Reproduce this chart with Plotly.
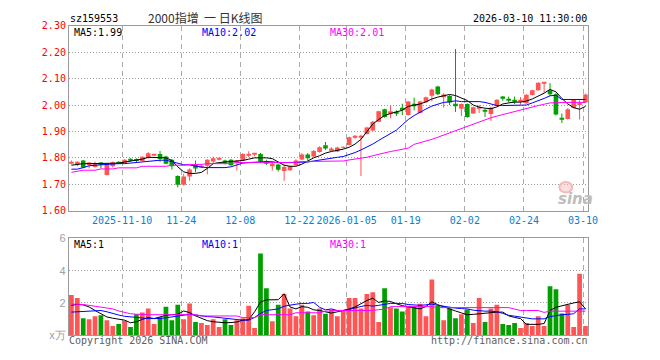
import plotly.graph_objects as go

W, H = 660, 360

# ---------------- data ----------------
opens = [1.780,1.774,1.790,1.773,1.765,1.782,1.735,1.768,1.785,1.780,
         1.796,1.796,1.788,1.799,1.810,1.815,1.805,1.793,1.731,1.698,
         1.729,1.774,1.765,1.770,1.786,1.794,1.790,1.793,1.780,1.790,
         1.810,1.813,1.815,1.783,1.768,1.775,1.750,1.753,1.772,1.794,
         1.813,1.805,1.822,1.848,1.830,1.824,1.838,1.849,1.879,1.876,
         1.890,1.904,1.937,1.984,1.966,1.972,1.990,1.962,2.005,1.970,
         2.011,2.035,2.070,2.029,2.034,2.005,1.986,2.004,1.968,1.988,
         1.982,1.966,1.997,2.032,2.021,2.016,2.014,2.007,2.038,2.056,
         2.082,2.056,2.041,1.950,1.947,1.989,2.000,2.010]
highs = [1.790,1.787,1.792,1.784,1.786,1.784,1.780,1.786,1.787,1.795,
         1.798,1.798,1.806,1.822,1.814,1.826,1.808,1.795,1.734,1.740,
         1.760,1.790,1.776,1.795,1.805,1.800,1.793,1.796,1.792,1.818,
         1.825,1.818,1.818,1.793,1.786,1.778,1.775,1.770,1.795,1.818,
         1.818,1.830,1.844,1.860,1.840,1.842,1.843,1.880,1.886,1.888,
         1.918,1.940,1.978,1.986,2.000,1.980,2.005,2.015,2.028,2.016,
         2.032,2.062,2.073,2.045,2.038,2.212,2.006,2.006,1.994,2.000,
         1.984,1.994,2.022,2.034,2.032,2.032,2.030,2.041,2.058,2.086,
         2.086,2.083,2.045,1.968,1.988,2.022,2.018,2.043]
lows = [1.775,1.768,1.760,1.760,1.763,1.760,1.733,1.764,1.776,1.778,
        1.786,1.784,1.786,1.797,1.806,1.785,1.776,1.756,1.688,1.695,
        1.713,1.745,1.762,1.737,1.778,1.790,1.775,1.770,1.752,1.788,
        1.803,1.806,1.783,1.773,1.752,1.748,1.713,1.750,1.770,1.792,
        1.790,1.803,1.820,1.830,1.826,1.822,1.835,1.847,1.872,1.731,
        1.888,1.902,1.935,1.952,1.950,1.958,1.962,1.960,1.980,1.968,
        2.008,2.014,2.038,1.990,2.000,1.974,1.958,1.952,1.966,1.970,
        1.955,1.940,1.995,2.016,2.010,2.004,2.002,2.005,2.036,2.054,
        2.046,2.034,1.960,1.932,1.945,1.987,1.945,2.008]
closes = [1.782,1.785,1.763,1.782,1.780,1.773,1.778,1.783,1.780,1.793,
          1.790,1.788,1.804,1.817,1.811,1.796,1.778,1.768,1.698,1.729,
          1.756,1.760,1.770,1.793,1.798,1.796,1.784,1.772,1.790,1.815,
          1.812,1.815,1.786,1.780,1.778,1.755,1.765,1.768,1.790,1.813,
          1.798,1.826,1.840,1.835,1.835,1.839,1.840,1.878,1.881,1.884,
          1.915,1.937,1.976,1.955,1.976,1.970,1.980,2.013,1.995,2.013,
          2.029,2.059,2.041,2.040,2.010,1.995,2.004,1.955,1.992,1.991,
          1.977,1.990,2.020,2.024,2.019,2.014,2.016,2.039,2.056,2.084,
          2.084,2.041,1.964,1.945,1.984,2.019,2.008,2.040]

ma5 = [1.772,1.775,1.778,1.778,1.778,1.778,1.778,1.778,1.780,1.784,
       1.787,1.790,1.795,1.802,1.802,1.802,1.800,1.790,1.766,1.747,
       1.741,1.741,1.745,1.760,1.778,1.782,1.784,1.785,1.786,1.790,
       1.795,1.800,1.800,1.800,1.797,1.784,1.772,1.768,1.768,1.776,
       1.788,1.800,1.808,1.818,1.824,1.828,1.833,1.840,1.852,1.870,
       1.900,1.928,1.945,1.960,1.968,1.975,1.980,1.995,2.000,2.004,
       2.012,2.023,2.030,2.035,2.040,2.036,2.027,2.017,2.000,1.992,
       1.988,1.986,1.993,2.004,2.008,2.011,2.011,2.015,2.023,2.033,
       2.045,2.059,2.050,2.025,2.004,1.990,1.984,1.995]
ma10 = [1.757,1.757,1.763,1.770,1.772,1.774,1.776,1.777,1.778,1.778,
        1.780,1.782,1.784,1.788,1.790,1.791,1.791,1.785,1.778,1.774,
        1.773,1.768,1.765,1.763,1.763,1.763,1.763,1.766,1.774,1.780,
        1.782,1.784,1.786,1.786,1.785,1.782,1.782,1.782,1.782,1.782,
        1.784,1.788,1.792,1.796,1.798,1.802,1.805,1.812,1.820,1.830,
        1.840,1.852,1.866,1.878,1.892,1.905,1.925,1.945,1.960,1.974,
        1.985,1.996,2.003,2.010,2.012,2.016,2.013,2.013,2.013,2.013,
        2.010,2.005,1.998,1.998,1.998,1.998,1.998,2.000,2.008,2.016,
        2.025,2.035,2.037,2.021,2.021,2.021,2.021,2.021]
ma30 = [1.745,1.748,1.753,1.753,1.753,1.758,1.758,1.758,1.762,1.762,
        1.762,1.762,1.768,1.768,1.768,1.768,1.768,1.772,1.772,1.772,
        1.775,1.775,1.775,1.778,1.778,1.778,1.778,1.778,1.782,1.782,
        1.782,1.782,1.782,1.782,1.782,1.782,1.782,1.782,1.782,1.786,
        1.786,1.786,1.786,1.786,1.786,1.786,1.788,1.792,1.795,1.798,
        1.802,1.808,1.814,1.820,1.824,1.828,1.832,1.837,1.851,1.857,
        1.863,1.870,1.878,1.886,1.895,1.903,1.912,1.920,1.928,1.935,
        1.945,1.952,1.958,1.964,1.970,1.976,1.982,1.988,1.994,1.998,
        2.003,2.008,2.009,2.010,2.010,2.010,2.010,2.010]

volume = [2.49,2.31,1.05,0.99,1.17,1.23,0.93,0.57,0.69,0.89,
          0.51,1.29,1.41,1.65,0.69,1.11,1.77,0.93,1.89,0.99,
          1.97,0.81,0.75,0.63,0.99,0.51,0.99,0.63,0.93,1.05,
          1.83,0.45,5.07,2.91,0.87,1.89,2.55,1.65,1.17,1.89,
          1.47,1.23,1.65,1.33,1.59,1.17,1.53,2.31,2.31,1.65,
          2.55,2.67,0.81,2.91,1.73,1.65,1.47,1.83,1.77,1.95,
          1.17,3.45,1.83,0.93,1.65,1.05,1.29,1.59,0.75,2.31,
          0.81,1.65,1.89,0.69,0.63,0.75,0.45,0.75,0.57,1.17,
          0.57,3.03,2.85,1.35,1.89,0.51,3.81,0.57]
vma5 = [1.85,1.91,1.88,1.75,1.53,1.35,1.13,1.05,1.00,0.93,
        0.77,0.83,0.98,1.09,1.03,1.15,1.23,1.27,1.29,1.50,
        1.40,1.20,1.03,0.90,0.83,0.78,0.77,0.78,0.82,0.93,
        0.96,1.45,2.05,2.19,2.19,2.20,2.57,1.75,1.63,1.77,
        1.73,1.57,1.53,1.43,1.37,1.45,1.53,1.62,1.75,1.95,
        2.15,2.29,2.03,2.13,2.09,1.95,1.83,1.76,1.71,1.63,
        1.78,2.07,1.89,1.75,1.60,1.50,1.38,1.27,1.29,1.33,
        1.38,1.43,1.43,1.43,1.20,1.10,1.03,0.67,0.67,0.67,
        0.72,1.53,1.73,1.83,1.93,2.00,2.07,1.63]
vma10 = [1.43,1.45,1.47,1.49,1.51,1.53,1.45,1.33,1.25,1.17,
         1.13,1.10,1.05,1.03,1.03,1.03,1.08,1.13,1.20,1.25,
         1.29,1.25,1.18,1.15,1.13,1.10,1.05,1.00,0.97,0.93,
         0.93,1.10,1.35,1.53,1.57,1.63,1.80,1.88,1.92,1.97,
         1.97,2.03,1.73,1.57,1.63,1.53,1.53,1.60,1.70,1.78,
         1.85,1.80,1.85,1.93,1.97,1.97,1.97,1.90,1.87,1.85,
         1.88,1.93,1.85,1.78,1.71,1.68,1.65,1.63,1.55,1.50,
         1.49,1.49,1.45,1.35,1.23,1.18,1.13,1.08,1.01,1.01,
         1.01,1.15,1.23,1.27,1.29,1.33,1.63,1.63]
vma30 = [1.93,1.92,1.90,1.85,1.80,1.77,1.70,1.63,1.50,1.40,
         1.33,1.30,1.27,1.27,1.27,1.27,1.27,1.27,1.27,1.27,
         1.27,1.27,1.19,1.19,1.19,1.19,1.19,1.19,1.19,1.09,
         1.09,1.09,1.27,1.27,1.27,1.27,1.27,1.27,1.39,1.39,
         1.39,1.39,1.39,1.49,1.53,1.53,1.53,1.53,1.53,1.53,
         1.53,1.53,1.58,1.61,1.77,1.77,1.77,1.77,1.77,1.77,
         1.77,1.77,1.71,1.71,1.71,1.71,1.71,1.71,1.71,1.71,
         1.71,1.71,1.71,1.71,1.71,1.62,1.53,1.53,1.53,1.53,
         1.41,1.49,1.49,1.49,1.49,1.49,1.49,1.49]

tick_index = [9, 19, 29, 39, 47, 57, 67, 77, 87]
tick_labels = ["2025-11-10", "11-24", "12-08", "12-22", "2026-01-05",
               "01-19", "02-02", "02-24", "03-10"]
price_ticks = [1.60, 1.70, 1.80, 1.90, 2.00, 2.10, 2.20, 2.30]
vol_ticks = [0, 2, 4, 6]
vol_tick_labels = ["x万", "2", "4", "6"]

title_code = "sz159553"
title_name = "2000指增\u00a0\u00a0一\u00a0日K线图"
title_time = "2026-03-10 11:30:00"
ma_labels = ["MA5:1.99", "MA10:2.02", "MA30:2.01"]
vma_labels = ["MA5:1", "MA10:1", "MA30:1"]

# ---------------- style ----------------
RED = "#ff5555"
GREEN = "#00a000"
MA_COLORS = ["#000000", "#0000ff", "#ff00ff"]
MONO = "DejaVu Sans Mono"
BORDER = "#9a9a9a"
VGRID = "#ababab"
HGRID = "#9a9a9a"
BODY_W = 0.78
MIN_BODY = 0.0025

n = len(closes)
idx = list(range(n))
half_off = 2.5 / 6.0
xr = [-half_off, n - 1 + half_off]
grid_x = [t - half_off for t in tick_index]

px_l, px_r = 70, 597
main_top, main_bot = 20.5, 211.7
vol_top, vol_bot = 240.5, 340.5
xdom = [px_l / W, px_r / W]

def py(v):
    return 1 - v / H

up = [c >= o for o, c in zip(opens, closes)]
colors = [RED if u else GREEN for u in up]

fig = go.Figure()

# wicks (one trace per colour)
for flag, col in [(True, RED), (False, GREEN)]:
    wx, wy = [], []
    for i in idx:
        if up[i] == flag:
            wx += [i, i, None]
            wy += [lows[i], highs[i], None]
    fig.add_trace(go.Scatter(x=wx, y=wy, mode="lines", line=dict(color=col, width=1),
                             xaxis="x", yaxis="y", hoverinfo="skip", showlegend=False))

# bodies
body_base = [min(o, c) for o, c in zip(opens, closes)]
body_h = [max(abs(c - o), MIN_BODY) for o, c in zip(opens, closes)]
fig.add_trace(go.Bar(x=idx, y=body_h, base=body_base, width=BODY_W,
                     marker=dict(color=colors, line=dict(width=0)),
                     xaxis="x", yaxis="y", hoverinfo="skip", showlegend=False))

for series, col in zip([ma5, ma10, ma30], MA_COLORS):
    fig.add_trace(go.Scatter(x=idx, y=series, mode="lines",
                             line=dict(color=col, width=1),
                             xaxis="x", yaxis="y", hoverinfo="skip",
                             showlegend=False))

fig.add_trace(go.Bar(x=idx, y=volume, marker=dict(color=colors, line=dict(width=0)),
                     width=0.8, xaxis="x2", yaxis="y2", hoverinfo="skip",
                     showlegend=False))
for series, col in zip([vma5, vma10, vma30], MA_COLORS):
    fig.add_trace(go.Scatter(x=idx, y=series, mode="lines",
                             line=dict(color=col, width=1),
                             xaxis="x2", yaxis="y2", hoverinfo="skip",
                             showlegend=False))

common_x = dict(domain=xdom, range=xr, tickmode="array", tickvals=grid_x,
                showgrid=True, gridcolor=VGRID, griddash="5px,4px", gridwidth=1,
                showline=True, mirror=True, linecolor=BORDER, linewidth=1,
                zeroline=False, ticks="", fixedrange=True)

fig.update_layout(
    width=W, height=H,
    margin=dict(l=0, r=0, t=0, b=0),
    paper_bgcolor="white", plot_bgcolor="white",
    barmode="overlay",
    xaxis=dict(**common_x, anchor="y", ticktext=tick_labels,
               tickfont=dict(family=MONO, size=10, color="#0a80d0")),
    yaxis=dict(domain=[py(main_bot), py(main_top)], range=[1.60, 2.30],
               tickmode="array", tickvals=price_ticks,
               ticktext=[f"{v:.2f}" for v in price_ticks],
               tickfont=dict(family=MONO, size=10, color="#ff0000"),
               showgrid=True, gridcolor=HGRID, griddash="1px,2px", gridwidth=1,
               showline=True, mirror=True, linecolor=BORDER, linewidth=1,
               zeroline=False, ticks="", anchor="x", fixedrange=True),
    xaxis2=dict(**common_x, anchor="y2", showticklabels=False),
    yaxis2=dict(domain=[py(vol_bot), py(vol_top)], range=[0, 6],
                tickmode="array", tickvals=vol_ticks, ticktext=vol_tick_labels,
                tickfont=dict(family="Liberation Sans", size=11, color="#a0a0a0"),
                showgrid=True, gridcolor=HGRID, griddash="1px,2px", gridwidth=1,
                showline=True, mirror=True, linecolor=BORDER, linewidth=1,
                zeroline=False, ticks="", anchor="x2", fixedrange=True),
)

def note(text, x, y, color="#000000", anchor="left", family=MONO, size=10, **kw):
    fig.add_annotation(text=text, x=x / W, y=py(y), xref="paper", yref="paper",
                       xanchor=anchor, yanchor="middle", showarrow=False,
                       font=dict(family=family, size=size, color=color),
                       borderpad=0, **kw)

note(title_code, 70, 12.5)
note(title_name, 149, 12, color="#333333", family="Noto Sans CJK SC", size=12)
note(title_time, 597, 12.5, anchor="right")

for lab, col, xx in zip(ma_labels, MA_COLORS, [74, 204, 334]):
    note(lab, xx, 27, color=col)
for lab, col, xx in zip(vma_labels, MA_COLORS, [74, 204, 334]):
    note(lab, xx, 246.5, color=col)

note("Copyright 2026 SINA.COM", 69, 346, color="#606060")
note("http://finance.sina.com.cn", 598, 346, color="#606060", anchor="right")

# sina watermark
fig.add_shape(type="circle", xref="paper", yref="paper",
              x0=568 / W, x1=581 / W, y0=py(193), y1=py(182),
              line=dict(color="#f6b8b8", width=2), fillcolor="rgba(246,184,184,0.45)")
note("<b><i>sina</i></b>", 584, 200, color="#bdbdbd", anchor="center",
     family="DejaVu Sans", size=15)

fig.write_html("out.html")
